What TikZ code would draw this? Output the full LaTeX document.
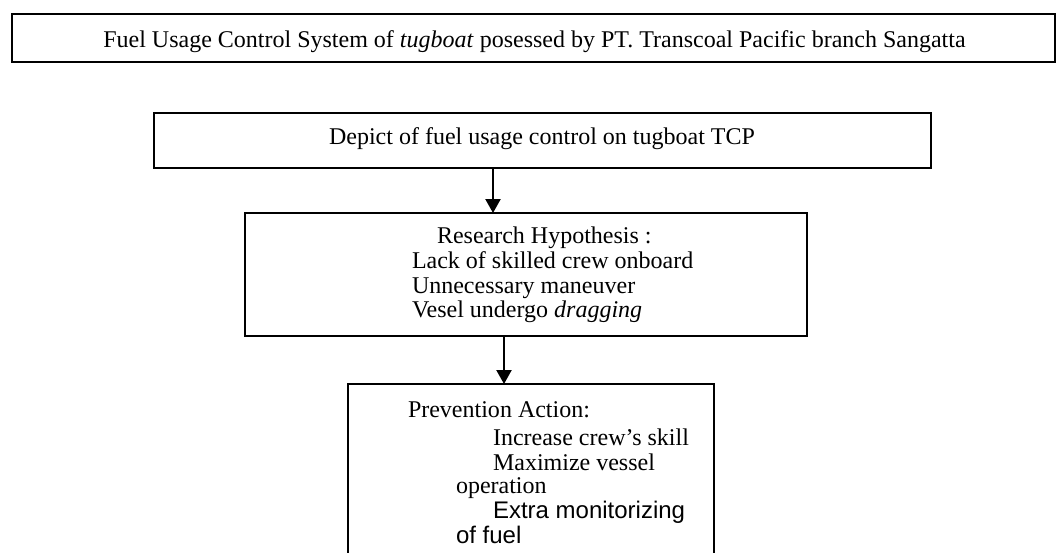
\documentclass[tikz,border=0pt]{standalone}
\usepackage{fontspec}
\setmainfont{Liberation Serif}
\newfontfamily\arialfont{Liberation Sans}
\usetikzlibrary{arrows.meta,fit}
\begin{document}
\begin{tikzpicture}[x=0.5pt,y=-0.5pt,
  box/.style={draw, line width=1.1pt, inner sep=0pt, outer sep=0pt},
  txt/.style={anchor=base west, inner sep=0pt, outer sep=0pt, font=\fontsize{12pt}{12.5pt}\selectfont},
  arr/.style={line width=1.1pt, -{Triangle[width=7.5pt,length=7pt]}}]
\useasboundingbox (0,0) rectangle (1058,552);
\clip (0,0) rectangle (1058,552);
% boxes
\node[box, fit={(12,14) (1055,62)}] (top) {};
\node[box, fit={(154,113) (931,168)}] (dep) {};
\node[box, fit={(245,213) (807,336)}] (hyp) {};
\node[box, fit={(348,384) (714,600)}] (prev) {};
% texts
\node[txt, anchor=base] (ttop) at (534.5,47.7) {Fuel Usage Control System of \textit{tugboat} posessed by PT. Transcoal Pacific branch Sangatta};
\node[txt, anchor=base] (tdep) at (542,144) {Depict of fuel usage control on tugboat TCP};
\node[txt] (h1) at (437,243) {Research Hypothesis :};
\node[txt] (h2) at (412,268) {Lack of skilled crew onboard};
\node[txt] (h3) at (412,293) {Unnecessary maneuver};
\node[txt] (h4) at (412,317) {Vesel undergo \textit{dragging}};
\node[txt] (p1) at (408,417) {Prevention Action:};
\node[txt] (p2) at (493,445) {Increase crew’s skill};
\node[txt] (p3) at (493,470) {Maximize vessel};
\node[txt] (p4) at (456,493) {operation};
\node[txt, font=\arialfont\fontsize{12pt}{12.5pt}\selectfont] (p5) at (493,518) {Extra monitorizing};
\node[txt, font=\arialfont\fontsize{12pt}{12.5pt}\selectfont] (p6) at (456,543) {of fuel};
% connectors
\coordinate (c1) at (493,0);
\coordinate (c2) at (504,0);
\draw[arr] (dep.south -| c1) -- (hyp.north -| c1);
\draw[arr] (hyp.south -| c2) -- (prev.north -| c2);
\end{tikzpicture}
\end{document}
